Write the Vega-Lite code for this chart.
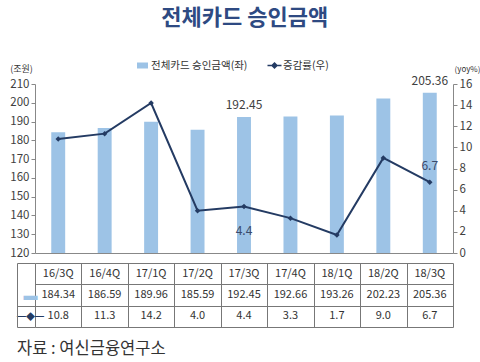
{
  "$schema": "https://vega.github.io/schema/vega-lite/v6.json",
  "padding": {"left": 9, "right": 0, "top": 7, "bottom": 0},
  "background": "white",
  "config": {"font": "Noto Sans CJK KR", "view": {"stroke": null}, "concat": {"spacing": 0}},
  "title": {"text": "전체카드 승인금액", "fontSize": 22, "fontWeight": "bold", "color": "#2E4A82", "anchor": "middle", "offset": 30},
  "datasets": {
    "q": [
      {"q": "16/3Q", "amt": 184.34, "yoy": 10.8},
      {"q": "16/4Q", "amt": 186.59, "yoy": 11.3},
      {"q": "17/1Q", "amt": 189.96, "yoy": 14.2},
      {"q": "17/2Q", "amt": 185.59, "yoy": 4.0},
      {"q": "17/3Q", "amt": 192.45, "yoy": 4.4},
      {"q": "17/4Q", "amt": 192.66, "yoy": 3.3},
      {"q": "18/1Q", "amt": 193.26, "yoy": 1.7},
      {"q": "18/2Q", "amt": 202.23, "yoy": 9.0},
      {"q": "18/3Q", "amt": 205.36, "yoy": 6.7}
    ]
  },
  "spacing": 0,
  "vconcat": [
    {
      "width": 418,
      "height": 169,
      "data": {"name": "q"},
      "encoding": {
        "x": {"field": "q", "type": "ordinal", "sort": null, "scale": {"paddingInner": 0.7, "paddingOuter": 0.35}, "axis": {"labels": false, "ticks": false, "title": null, "domainColor": "#888", "grid": false}}
      },
      "layer": [
        {
          "encoding": {
            "y": {"field": "amt", "type": "quantitative", "scale": {"domain": [120, 210], "zero": false, "nice": false},
              "axis": {"values": [120, 130, 140, 150, 160, 170, 180, 190, 200, 210], "labelOverlap": false, "title": "(조원)", "titleAngle": 0, "titleX": -14, "titleY": -16, "titleAlign": "center", "titleBaseline": "middle", "titleFontSize": 9, "titleFontWeight": "normal", "titleColor": "#333", "labelFontSize": 11.5, "labelColor": "#404040", "tickSize": 4, "tickColor": "#888", "domainColor": "#888", "grid": false, "labelPadding": 2}}
          },
          "layer": [
            {
              "mark": {"type": "bar"},
              "encoding": {
                "y2": {"datum": 120},
                "color": {"datum": "전체카드 승인금액(좌)", "type": "nominal",
                  "scale": {"domain": ["전체카드 승인금액(좌)", "증감률(우)"], "range": ["#9DC3E6", "#243B63"]},
                  "legend": {"orient": "none", "legendX": 102, "legendY": -24, "direction": "horizontal", "title": null, "labelFontSize": 10.5, "labelColor": "#333", "columnPadding": 16, "labelOffset": 3,
                    "encode": {"symbols": {"update": {
                      "shape": {"signal": "datum.value == '증감률(우)' ? 'M-1,0H1M0,-0.35L0.35,0L0,0.35L-0.35,0Z' : 'M-1,-0.5H1V0.5H-1Z'"},
                      "fill": {"signal": "datum.value == '증감률(우)' ? '#243B63' : '#9DC3E6'"},
                      "stroke": {"signal": "datum.value == '증감률(우)' ? '#243B63' : '#9DC3E6'"},
                      "strokeWidth": {"value": 1.5},
                      "size": {"signal": "datum.value == '증감률(우)' ? 196 : 90"}
                    }}}}
                }
              }
            },
            {
              "transform": [{"filter": "datum.q == '17/3Q' || datum.q == '18/3Q'"}],
              "mark": {"type": "text", "dy": -12, "fontSize": 12, "color": "#404040"},
              "encoding": {
                "text": {"field": "amt", "type": "quantitative", "format": ".2f"}
              }
            }
          ]
        },
        {
          "encoding": {
            "y": {"field": "yoy", "type": "quantitative", "scale": {"domain": [0, 16], "nice": false},
              "axis": {"orient": "right", "values": [0, 2, 4, 6, 8, 10, 12, 14, 16], "labelOverlap": false, "title": "(yoy%)", "titleAngle": 0, "titleX": 14, "titleY": -15, "titleAlign": "center", "titleBaseline": "middle", "titleFontSize": 8, "titleFontWeight": "normal", "titleColor": "#333", "labelFontSize": 11.5, "labelColor": "#404040", "tickSize": 4, "tickColor": "#888", "domainColor": "#888", "grid": false, "labelPadding": 2}}
          },
          "layer": [
            {
              "mark": {"type": "line", "strokeWidth": 2, "point": {"shape": "diamond", "size": 30, "filled": true}},
              "encoding": {
                "color": {"datum": "증감률(우)", "type": "nominal"}
              }
            },
            {
              "transform": [{"filter": "datum.q == '17/3Q'"}],
              "mark": {"type": "text", "dy": 24, "fontSize": 12, "color": "#3A4A6B"},
              "encoding": {
                "text": {"field": "yoy", "type": "quantitative", "format": ".1f"}
              }
            },
            {
              "transform": [{"filter": "datum.q == '18/3Q'"}],
              "mark": {"type": "text", "dy": -16, "fontSize": 12, "color": "#3A4A6B"},
              "encoding": {
                "text": {"field": "yoy", "type": "quantitative", "format": ".1f"}
              }
            }
          ]
        }
      ],
      "resolve": {"scale": {"y": "independent"}}
    },
    {
      "width": 418,
      "height": 64,
      "data": {"name": "q"},
      "encoding": {
        "x": {"field": "q", "type": "ordinal", "sort": null, "scale": {"paddingInner": 0, "paddingOuter": 0},
          "axis": {"orient": "top", "labels": false, "ticks": false, "domain": false, "grid": true, "gridColor": "#777", "gridOpacity": 1, "tickBand": "extent", "title": null}}
      },
      "layer": [
        {
          "mark": {"type": "text", "fontSize": 11, "color": "#333"},
          "encoding": {
            "y": {"datum": "h", "type": "nominal", "scale": {"type": "band", "domain": ["h", "a", "y"], "paddingInner": 0, "paddingOuter": 0},
              "axis": {"title": null, "labelExpr": "datum.value == 'a' ? '▬' : datum.value == 'y' ? '━◆━' : ''",
                "labelColor": {"condition": {"test": "datum.value == 'a'", "value": "#9DC3E6"}, "value": "#243B63"},
                "labelFontSize": {"condition": {"test": "datum.value == 'a'", "value": 14}, "value": 9},
                "tickColor": {"condition": {"test": "datum.value == 'h'", "value": "transparent"}, "value": "#777"},
                "offset": 18, "tickSize": -18, "tickBand": "extent", "domainColor": "#777", "grid": true, "gridColor": "#777", "gridOpacity": 1,
                "labelAlign": "center", "labelPadding": 5, "labelOverlap": false}},
            "text": {"field": "q", "type": "nominal"}
          }
        },
        {
          "mark": {"type": "text", "fontSize": 11, "color": "#333"},
          "encoding": {
            "y": {"datum": "a", "type": "nominal"},
            "text": {"field": "amt", "type": "quantitative", "format": ".2f"}
          }
        },
        {
          "mark": {"type": "text", "fontSize": 11, "color": "#333"},
          "encoding": {
            "y": {"datum": "y", "type": "nominal"},
            "text": {"field": "yoy", "type": "quantitative", "format": ".1f"}
          }
        }
      ],
      "title": {"text": "자료  :  여신금융연구소", "orient": "bottom", "anchor": "start", "frame": "group", "fontSize": 16.5, "fontWeight": "normal", "color": "#333", "dx": -18, "offset": 13}
    }
  ]
}
